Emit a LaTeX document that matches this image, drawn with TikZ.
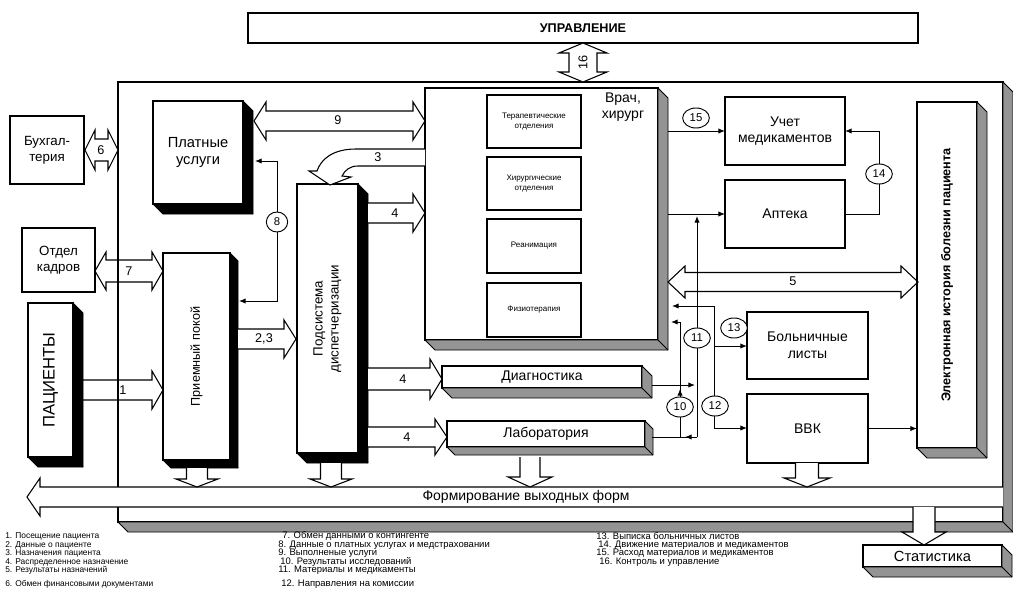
\documentclass[tikz,border=0pt]{standalone}
\usepackage{fontspec}
\setmainfont{Liberation Sans}
\usetikzlibrary{arrows.meta,shapes.geometric,calc}
\definecolor{shgray}{gray}{0.58}
\newcommand\bx[7][]{\node[box,#1,minimum width={(#5-#3)*0.75pt},minimum height={(#6-#4)*0.75pt}] (#2) at ({(#3+#5)/2},{(#4+#6)/2}) {#7};}
\newcommand\shd[3]{\filldraw[fill=#2,draw=black,line width=0.6pt,line join=round] (#1.north east) -- ++(#3,#3) -- ([shift={(#3,#3)}]#1.south east) -- ([shift={(#3,#3)}]#1.south west) -- (#1.south west) -- (#1.south east) -- cycle; \draw[line width=0.6pt] (#1.south east) -- ++(#3,#3);}
\newcommand\arR[7][fill=white]{\path[blk,#1] (#2,#4-#5) -- (#3-#7,#4-#5) -- (#3-#7,#4-#6) -- (#3,#4) -- (#3-#7,#4+#6) -- (#3-#7,#4+#5) -- (#2,#4+#5);}
\newcommand\arD[7][fill=white]{\path[blk,#1] (#2,#4) -- (#2+#7,#4-#6) -- (#2+#7,#4-#5) -- (#3-#7,#4-#5) -- (#3-#7,#4-#6) -- (#3,#4) -- (#3-#7,#4+#6) -- (#3-#7,#4+#5) -- (#2+#7,#4+#5) -- (#2+#7,#4+#6) -- cycle;}
\newcommand\arV[7][fill=white]{\path[blk,#1] (#2-#5,#3) -- (#2-#5,#4-#7) -- (#2-#6,#4-#7) -- (#2,#4) -- (#2+#6,#4-#7) -- (#2+#5,#4-#7) -- (#2+#5,#3);}
\begin{document}
\begin{tikzpicture}[x=0.75pt,y=-0.75pt,
 box/.style={draw,line width=0.8pt,fill=white,inner sep=0pt,outer sep=0pt,align=center,font=\fontsize{10}{12}\selectfont},
 blk/.style={draw,line width=0.8pt,line join=miter},
 conn/.style={line width=0.7pt},
 cr/.style={conn,-{Latex[length=5pt,width=4pt]}},
 cb/.style={conn,{Latex[length=5pt,width=4pt]}-{Latex[length=5pt,width=4pt]}},
 circ/.style={draw,ellipse,line width=0.7pt,fill=white,inner sep=0pt,minimum width=16pt,minimum height=15pt,font=\fontsize{8.5}{9}\selectfont},
 circw/.style={circ,minimum width=20pt},
 lbl/.style={inner sep=0pt,font=\fontsize{9.5}{10}\selectfont},
 sub/.style={box,font=\fontsize{6}{7.5}\selectfont},
 vt/.style={rotate=90,align=center,inner sep=0pt},
 leg/.style={anchor=west,inner sep=0pt,font=\fontsize{6.3}{7}\selectfont},
 legw/.style={leg,font=\fontsize{7.1}{8}\selectfont},
 ]
\useasboundingbox (0,0) rectangle (1013,596);
\fill[white] (0,0) rectangle (1013,596);
% outer frame
\bx[fill=none]{outer}{118}{82}{1003}{522}{}
\shd{outer}{shgray}{10}
% management
\bx[font=\bfseries\fontsize{9.5}{11}\selectfont]{upr}{248}{13}{918}{43}{УПРАВЛЕНИЕ}
\path[blk,fill=white] (583,43) -- (607,53) -- (597,53) -- (597,72) -- (607,72) -- (583,82) -- (559,72) -- (569,72) -- (569,53) -- (559,53) -- cycle;
\node[lbl,rotate=90] (l16) at (583,62) {16};
% left side
\bx{buh}{10}{116}{84}{184}{Бухгал-\\терия}
\arD{85}{118}{150}{11}{20}{10}
\node[lbl] (l6) at (101,150) {6};
\bx{kadr}{22}{228}{95}{292}{Отдел\\кадров}
\arD[fill=none]{95}{163}{271}{11}{19}{11}
\node[lbl] (l7) at (129,271) {7};
\bx{pac}{28}{303}{73}{457}{}
\shd{pac}{black}{10}
\node[vt,font=\fontsize{12.5}{14}\selectfont] (tpac) at (pac) {ПАЦИЕНТЫ};
\bx{priem}{163}{253}{230}{460}{}
\shd{priem}{black}{8}
\node[vt,font=\fontsize{9.5}{11}\selectfont] (tpriem) at (priem) {Приемный покой};
\arR[fill=none]{83}{163}{390}{10}{19}{11}
\node[lbl] (l1) at (123,390) {1};
\bx[font=\fontsize{11}{13}\selectfont]{plat}{153}{101}{243}{204}{Платные\\услуги}
\shd{plat}{black}{10}
\arD{254}{425}{121}{10}{19}{12}
\node[lbl] (l9) at (338,120) {9};
\bx{podsys}{297}{184}{358}{453}{}
\shd{podsys}{black}{10}
\node[vt,font=\fontsize{10}{12}\selectfont] (tpodsys) at (podsys) {Подсистема\\диспетчеризации};
\arR{238}{296}{339}{10}{19}{12}
\node[lbl] (l23) at (264,339) {2,3};
\arR{368}{425}{213}{10}{19}{12}
\node[lbl] (l4a) at (395,213) {4};
\arR{368}{442}{379}{11}{20}{12}
\node[lbl] (l4b) at (403,379) {4};
\arR{368}{447}{437}{10}{18}{12}
\node[lbl] (l4c) at (407,437) {4};
% doctor block
\bx{vrach}{425}{88}{658}{340}{}
\shd{vrach}{shgray}{10}
\node[align=center,inner sep=0pt,font=\fontsize{10.5}{12.5}\selectfont] (tvrach) at (623,107) {Врач,\\хирург};
\bx[sub]{ter}{487}{95}{581}{148}{Терапевтические\\отделения}
\bx[sub]{hir}{487}{157}{581}{210}{Хирургические\\отделения}
\bx[sub]{rean}{487}{219}{581}{273}{Реанимация}
\bx[sub]{fiz}{487}{283}{581}{337}{Физиотерапия}
% curved arrow 3
\path[blk,fill=white] (425,149) -- (356,149) .. controls (333,149) and (321,159) .. (317,171) -- (309,171) -- (330,185) -- (351,177) -- (342,176) .. controls (345,170) and (350,166) .. (358,166) -- (425,166);
\node[lbl] (l3) at (378,157) {3};
% diagnostics, laboratory
\bx[font=\fontsize{10.5}{12}\selectfont]{diag}{442}{366}{642}{388}{Диагностика}
\shd{diag}{shgray}{10}
\bx[font=\fontsize{10.5}{12}\selectfont]{lab}{447}{421}{645}{447}{Лаборатория}
\shd{lab}{shgray}{8}
% right side
\bx[font=\fontsize{10.5}{12.5}\selectfont]{uchet}{725}{97}{845}{165}{Учет\\медикаментов}
\bx[font=\fontsize{10.5}{12.5}\selectfont]{apt}{725}{180}{845}{248}{Аптека}
\bx{ehr}{917}{102}{977}{448}{}
\shd{ehr}{shgray}{10}
\node[vt,font=\bfseries\fontsize{9.5}{11}\selectfont] (tehr) at (ehr) {Электронная история болезни пациента};
\bx[font=\fontsize{10.5}{12.5}\selectfont]{bol}{747}{312}{868}{379}{Больничные\\листы}
\bx[font=\fontsize{10.5}{12.5}\selectfont]{vvk}{747}{394}{868}{463}{ВВК}
\arD[fill=none]{668}{918}{282}{9.5}{16}{17}
\node[lbl] (l5) at (793,281) {5};
% connectors
\coordinate (v15) at (668,131);
\coordinate (vapt) at (668,214);
\draw[cr] (v15) -- (uchet.west);
\draw[cr] (vapt) -- (apt.west);
\draw[cr] (apt.east) -- (879,214) -- (879,131) -- (uchet.east);
\draw[cr] (697,437) -- (697,216);
\draw[cb] (672,306) -- (714,306) -- (714,428) -- (vvk.west |- 714,428);
\draw[cr] (714,346) -- (bol.west |- 714,346);
\draw[cr] (680,437) -- (680,322) -- (671,322);
\draw[cr] (680,400) -- (680,389);
\draw[cr] (652,385) -- (695,385);
\draw[conn] (652,437) -- (697,437);
\draw[cr] (697,437) -- (685,437);
\draw[cr] (vvk.east) -- (ehr.west |- vvk.east);
\draw[cb] (239,301) -- (277,301) -- (277,161) -- (255,161);
% circles
\node[circ] (c8) at (277,222) {8};
\node[circw] (c15) at (696,118) {15};
\node[circw] (c14) at (879,174) {14};
\node[circw] (c11) at (697,338) {11};
\node[circw] (c13) at (734,328) {13};
\node[circw] (c10) at (680,407) {10};
\node[circw] (c12) at (715,406) {12};
% output forms
\path[blk,fill=white] (1003,487) -- (40,487) -- (40,478) -- (27,497) -- (40,516) -- (40,507) -- (1003,507);
\node[inner sep=0pt,font=\fontsize{10.5}{12}\selectfont] (tform) at (526,497) {Формирование выходных форм};
\arV{197}{468}{487}{10.5}{21}{8}
\arV{331}{463}{487}{10.5}{21}{8}
\arV{530}{457}{487}{10}{22}{10}
\arV{807}{463}{487}{11.5}{23}{9}
\arV{924}{507}{545}{11}{22}{13}
\bx[font=\fontsize{11}{13}\selectfont]{stat}{863}{545}{1002}{567}{Статистика}
\shd{stat}{shgray}{10}
% legend
\node[leg] (g1) at (5,536) {1. Посещение пациента};
\node[leg] (g2) at (5,545) {2. Данные о пациенте};
\node[leg] (g3) at (5,553) {3. Назначения пациента};
\node[leg] (g4) at (5,562) {4. Распределенное назначение};
\node[leg] (g5) at (5,570) {5. Результаты назначений};
\node[leg] (g6) at (5,584) {6. Обмен финансовыми документами};
\node[legw] (g7) at (282,536) {7. Обмен данными о контингенте};
\node[legw] (g8) at (278,545) {8. Данные о платных услугах и медстраховании};
\node[legw] (g9) at (278,553) {9. Выполненые услуги};
\node[legw] (g10) at (280,562) {10. Результаты исследований};
\node[legw] (g11) at (278,570) {11. Материалы и медикаменты};
\node[legw] (g12) at (281,584) {12. Направления на комиссии};
\node[legw] (g13) at (596,536) {13. Выписка больничных листов};
\node[legw] (g14) at (598,545) {14. Движение материалов и медикаментов};
\node[legw] (g15) at (596,553) {15. Расход материалов и медикаментов};
\node[legw] (g16) at (599,562) {16. Контроль и управление};
\end{tikzpicture}
\end{document}
